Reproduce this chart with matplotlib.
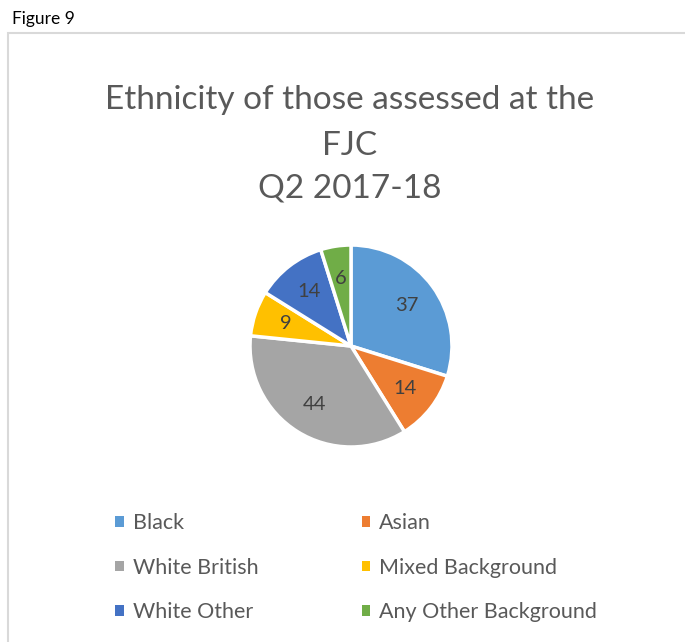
import matplotlib.pyplot as plt
from matplotlib.patches import Rectangle, Patch

plt.rcParams['font.family'] = ['Lato', 'DejaVu Sans']

categories = ['Black', 'Asian', 'White British', 'Mixed Background',
              'White Other', 'Any Other Background']
counts = [37, 14, 44, 9, 14, 6]
colors = ['#5b9bd5', '#ed7d31', '#a5a5a5', '#ffc000', '#4472c4', '#70ad47']
total = sum(counts)

W, H = 685, 642
fig = plt.figure(figsize=(W / 100, H / 100), dpi=100)

# outer box of the chart
fig.patches.append(Rectangle((8 / W, -0.01), 1.0, (H - 33) / H + 0.01,
                             transform=fig.transFigure, fill=False,
                             edgecolor='#d9d9d9', linewidth=1.5))
fig.text(12 / W, 1 - 19 / H, 'Figure 9', fontsize=12.5, va='center', ha='left', color='black')

fig.text(350 / W, 1 - 100 / H, 'Ethnicity of those assessed at the', fontsize=24,
         ha='center', va='center', color='#595959')
fig.text(350 / W, 1 - 146 / H, 'FJC', fontsize=24, ha='center', va='center', color='#595959')
fig.text(350 / W, 1 - 189 / H, 'Q2 2017-18', fontsize=24, ha='center', va='center', color='#595959')

cx, cy, r = 351, 346, 103
ax = fig.add_axes([(cx - r) / W, (H - cy - r) / H, 2 * r / W, 2 * r / H])
wedges, texts, autotexts = ax.pie(
    counts, colors=colors, startangle=90, counterclock=False,
    autopct=lambda p: '%d' % round(p * total / 100.0), pctdistance=0.68,
    wedgeprops=dict(edgecolor='white', linewidth=2.5),
    textprops=dict(fontsize=14.5, color='#404040'))
ax.set_xlim(-1.02, 1.02)
ax.set_ylim(-1.02, 1.02)
ax.set_aspect('equal')
ax.axis('off')

# legend fills row by row: reorder for column-major ncol=2
order = [0, 2, 4, 1, 3, 5]
handles = [Patch(facecolor=colors[i], label=categories[i]) for i in order]
fig.legend(handles=handles, ncol=2, loc='upper left',
           bbox_to_anchor=(96 / W, 1 - 494 / H), frameon=False,
           fontsize=15.5, labelcolor='#595959', handlelength=0.4, handleheight=0.4,
           handletextpad=0.4, columnspacing=4.8, labelspacing=1.13)

fig.savefig('out.png', dpi=100)
